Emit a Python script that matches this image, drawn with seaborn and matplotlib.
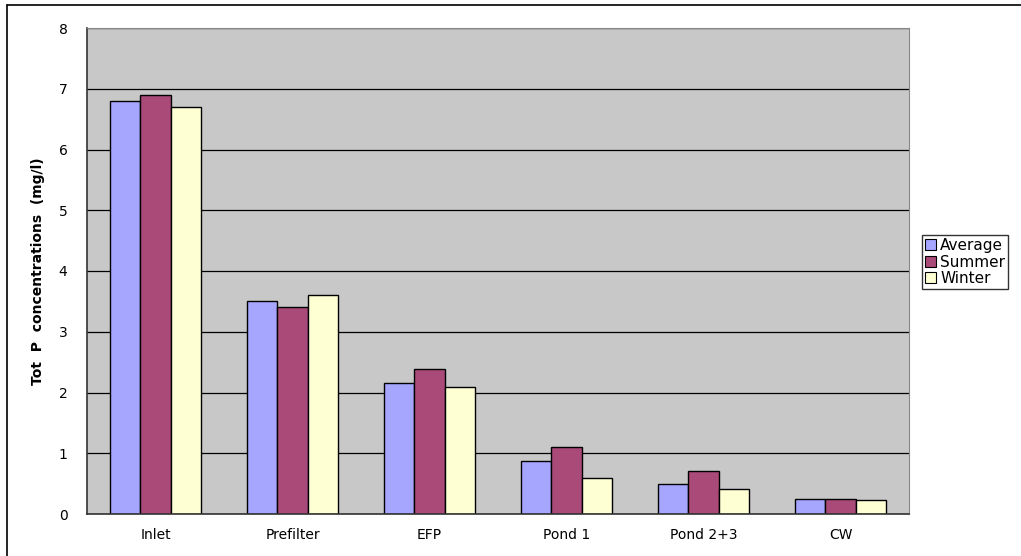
import seaborn as sns
import matplotlib.pyplot as plt
import pandas as pd
from matplotlib.lines import Line2D
from matplotlib.patches import Patch

# Dữ liệu
sites = ["Inlet", "Prefilter", "EFP", "Pond 1", "Pond 2+3", "CW"]
average = [6.8, 3.5, 2.16, 0.87, 0.49, 0.25]
summer = [6.9, 3.4, 2.39, 1.1, 0.7, 0.25]
winter = [6.7, 3.6, 2.09, 0.6, 0.41, 0.23]
series = ["Average", "Summer", "Winter"]
colors = ["#a6a6ff", "#aa4a78", "#ffffd4"]

df = pd.DataFrame({
    "site": sites * 3,
    "value": average + summer + winter,
    "season": [s for s in series for _ in sites],
})

sns.set_style("white")
plt.rcParams['font.family'] = ['DejaVu Sans']
plt.rcParams['text.color'] = 'black'
plt.rcParams['axes.labelcolor'] = 'black'

fig = plt.figure(figsize=(10.21, 5.56), dpi=100)
ax = fig.add_axes([87 / 1021, 42 / 556, 822 / 1021, 486 / 556])
ax.set_facecolor("#c8c8c8")

sns.barplot(data=df, x="site", y="value", hue="season", palette=colors, saturation=1,
            width=0.66, edgecolor="black", linewidth=1, ax=ax, legend=False)

ax.set_ylim(0, 8)
ax.set_xlim(-0.5, 5.5)
ax.set_yticks(range(9))
ax.yaxis.grid(True, color="black", linewidth=0.9)
ax.set_axisbelow(True)

ax.set_xticks([i + 0.5 for i in range(-1, 6)], minor=True)
ax.tick_params(axis="x", which="major", length=0, pad=10, labelsize=10, labelcolor="black")
ax.tick_params(axis="x", which="minor", length=5, width=1, color="#333333", direction="out")
ax.tick_params(axis="y", length=6, width=1, color="#333333", direction="out", labelsize=10,
               pad=8, labelcolor="black")

for side in ["top", "right"]:
    ax.spines[side].set_color("#888888")
for side in ["left", "bottom"]:
    ax.spines[side].set_color("#333333")
    ax.spines[side].set_linewidth(1.2)

ax.set_xlabel("")
ax.set_ylabel("Tot  P  concentrations  (mg/l)", fontsize=10, weight="bold", labelpad=10)

handles = [Patch(facecolor=c, edgecolor="black", linewidth=0.8) for c in colors]
fig.legend(handles, series, loc="upper left", bbox_to_anchor=(922 / 1021, 1 - 235 / 556),
           frameon=True, fancybox=False, edgecolor="black", fontsize=11,
           handlelength=0.7, handleheight=0.7, handletextpad=0.3,
           borderpad=0.2, labelspacing=0.1, borderaxespad=0, labelcolor="black")

# Khung ngoài
fig.add_artist(Line2D([7 / 1021, 7 / 1021], [0, 1 - 5 / 556], color="black", linewidth=1.2,
                      transform=fig.transFigure))
fig.add_artist(Line2D([7 / 1021, 1], [1 - 5 / 556, 1 - 5 / 556], color="black", linewidth=1.2,
                      transform=fig.transFigure))

fig.savefig("out.png", dpi=100)
